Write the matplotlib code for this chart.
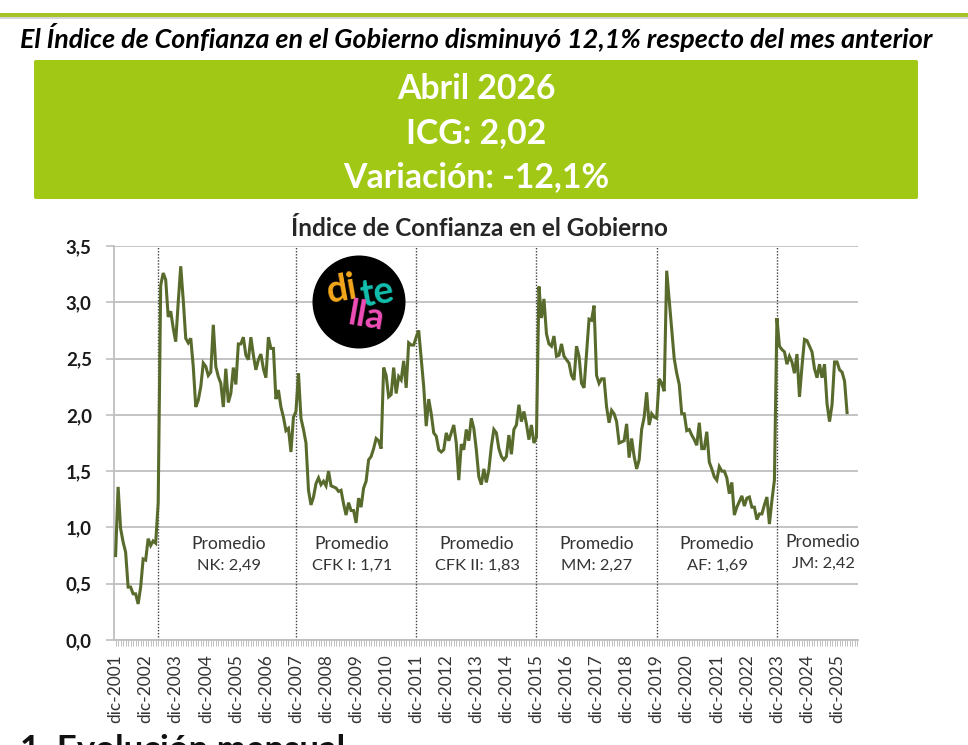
import numpy as np
import matplotlib
matplotlib.use("Agg")
import matplotlib.pyplot as plt
from matplotlib.patches import Circle, FancyBboxPatch, Rectangle

plt.rcParams['font.family'] = ['Lato', 'DejaVu Sans']

# ICG mensual, dic-2001 a abr-2026, por gobierno
icg_duhalde = [0.75, 1.36, 0.99, 0.87, 0.78, 0.47, 0.47, 0.41, 0.41, 0.32, 0.47, 0.72,
               0.71, 0.90, 0.84, 0.88, 0.86, 1.22]
icg_nk = [3.15, 3.26, 3.20, 2.87, 2.92, 2.77, 2.65, 3.00, 3.32, 3.02, 2.68, 2.64, 2.68,
          2.43, 2.07, 2.13, 2.25, 2.46, 2.43, 2.35, 2.38, 2.80, 2.43, 2.34, 2.28, 2.07,
          2.41, 2.11, 2.19, 2.42, 2.27, 2.63, 2.63, 2.69, 2.53, 2.49, 2.69, 2.53, 2.40,
          2.49, 2.54, 2.41, 2.33, 2.69, 2.59, 2.59, 2.14, 2.22, 2.07, 1.98, 1.86, 1.88,
          1.67, 1.98, 2.03]
icg_cfk1 = [2.37, 1.97, 1.87, 1.75, 1.33, 1.20, 1.27, 1.39, 1.44, 1.38, 1.41, 1.37, 1.50,
            1.37, 1.36, 1.35, 1.32, 1.33, 1.21, 1.11, 1.22, 1.15, 1.15, 1.04, 1.26, 1.18,
            1.35, 1.41, 1.60, 1.63, 1.70, 1.79, 1.77, 1.70, 2.42, 2.35, 2.16, 2.18, 2.42,
            2.19, 2.34, 2.31, 2.48, 2.24, 2.64, 2.62, 2.62, 2.69]
icg_cfk2 = [2.75, 2.50, 2.25, 1.90, 2.14, 2.01, 1.84, 1.81, 1.69, 1.67, 1.69, 1.84, 1.77,
            1.84, 1.91, 1.75, 1.42, 1.74, 1.69, 1.87, 1.77, 1.97, 1.88, 1.69, 1.45, 1.38,
            1.52, 1.40, 1.51, 1.72, 1.87, 1.84, 1.70, 1.63, 1.60, 1.63, 1.82, 1.65, 1.87,
            1.91, 2.09, 1.94, 2.03, 1.92, 1.78, 1.91, 1.75, 1.80]
icg_mm = [3.14, 2.86, 3.03, 2.72, 2.63, 2.61, 2.70, 2.52, 2.53, 2.63, 2.52, 2.49, 2.46,
          2.35, 2.31, 2.61, 2.52, 2.28, 2.24, 2.55, 2.85, 2.84, 2.97, 2.35, 2.28, 2.32,
          2.32, 2.07, 1.93, 2.04, 2.01, 1.94, 1.75, 1.76, 1.77, 1.92, 1.62, 1.79, 1.63,
          1.52, 1.60, 1.87, 1.98, 2.20, 1.91, 2.01, 1.98, 1.97]
icg_af = [2.32, 2.28, 2.21, 3.28, 3.02, 2.75, 2.50, 2.37, 2.27, 2.01, 2.01, 1.86, 1.87,
          1.82, 1.78, 1.73, 1.93, 1.70, 1.70, 1.85, 1.58, 1.52, 1.45, 1.42, 1.54, 1.50,
          1.50, 1.44, 1.30, 1.40, 1.11, 1.18, 1.23, 1.28, 1.19, 1.26, 1.27, 1.18, 1.18,
          1.07, 1.12, 1.12, 1.20, 1.27, 1.03, 1.24, 1.42]
icg_jm = [2.86, 2.61, 2.58, 2.56, 2.45, 2.52, 2.47, 2.37, 2.54, 2.16, 2.43, 2.67, 2.66,
          2.61, 2.56, 2.41, 2.33, 2.45, 2.33, 2.45, 2.10, 1.94, 2.09, 2.47, 2.47, 2.40,
          2.38, 2.30, 2.02]

icg = icg_duhalde + icg_nk + icg_cfk1 + icg_cfk2 + icg_mm + icg_af + icg_jm
meses = np.arange(len(icg))

cambios_gobierno = [17, 72, 120, 168, 216, 264]
anios = list(range(2001, 2026))
etiquetas_x = ['dic-' + str(a) for a in anios]
promedios = ['NK: 2,49', 'CFK I: 1,71', 'CFK II: 1,83', 'MM: 2,27', 'AF: 1,69', 'JM: 2,42']
prom_x = [229, 352, 477, 597, 717, 823]
prom_y = [544, 544, 544, 544, 544, 542]

VERDE = '#A0C814'
OLIVA = '#586B2C'
GRIS = '#BFBFBF'

W, H = 968, 745
fig = plt.figure(figsize=(W / 100, H / 100), dpi=100, facecolor='white')

# eje principal, ubicado en pixeles
izq, der, arriba, abajo = 114, 858, 246, 640
ax = fig.add_axes([izq / W, 1 - abajo / H, (der - izq) / W, (abajo - arriba) / H])
ax.set_xlim((izq - 115.6) / 2.505, (der - 115.6) / 2.505)
ax.set_ylim(0, 3.5)
ax.plot(meses, icg, color=OLIVA, lw=2.2, zorder=3, solid_joinstyle='miter')
for m in cambios_gobierno:
    ax.axvline(m, color='#404040', lw=1.0, ls=(0, (1, 1.2)), zorder=2)

ax.set_yticks(np.arange(0, 3.6, 0.5))
ax.set_yticklabels([f'{v:.1f}'.replace('.', ',') for v in np.arange(0, 3.6, 0.5)],
                   fontsize=13.5, fontweight='bold', color='#1a1a1a')
ax.set_xticks(meses[::12][:len(etiquetas_x)])
ax.set_xticklabels(etiquetas_x, rotation=90, fontsize=12.5, color='#333333')
ax.set_xticks(np.arange(0, 297), minor=True)
ax.grid(axis='y', color=GRIS, lw=1.3, zorder=1)
ax.tick_params(axis='y', length=6, color=GRIS, width=1.2, pad=10)
ax.tick_params(axis='x', which='major', length=4, color=GRIS, width=0.7, pad=6)
ax.tick_params(axis='x', which='minor', length=4, color=GRIS, width=0.7)
for s in ['top', 'right']:
    ax.spines[s].set_visible(False)
for s in ['left', 'bottom']:
    ax.spines[s].set_color(GRIS)
    ax.spines[s].set_linewidth(1.3)

# capa en pixeles para el resto de la pagina
pg = fig.add_axes([0, 0, 1, 1], zorder=5)
pg.set_xlim(0, W)
pg.set_ylim(H, 0)
pg.axis('off')
pg.patch.set_alpha(0)

pg.add_patch(Rectangle((0, 16), W, 3, color='#D5D5D5', lw=0))
pg.add_patch(Rectangle((0, 13), W, 3.5, color='#A5C42A', lw=0))
pg.text(476, 37, 'El Índice de Confianza en el Gobierno disminuyó 12,1% respecto del mes anterior',
        ha='center', va='center', fontsize=19.4, fontweight='bold', style='italic', color='black')
pg.add_patch(FancyBboxPatch((36, 62), 880, 135, boxstyle='round,pad=2,rounding_size=2',
                            color=VERDE, lw=0))
for y, txt in zip([89, 133, 177], ['Abril 2026', 'ICG: 2,02', 'Variación: -12,1%']):
    pg.text(476, y, txt, ha='center', va='center', fontsize=24.3, fontweight='bold', color='white')
pg.text(479, 228, 'Índice de Confianza en el Gobierno', ha='center', va='center',
        fontsize=17.5, fontweight='bold', color='#262626')

for x, y, txt in zip(prom_x, prom_y, promedios):
    pg.text(x, y, 'Promedio', ha='center', va='center', fontsize=12.6, color='#333333')
    pg.text(x, y + 22, txt, ha='center', va='center', fontsize=11.8, color='#333333')

# logo
pg.add_patch(Circle((359, 302), 46.5, color='black', lw=0))
pg.text(342, 290, 'di', ha='center', va='center', fontsize=27, fontweight='bold', color='#F5A81C', rotation=10)
pg.text(377, 293, 'te', ha='center', va='center', fontsize=27, fontweight='bold', color='#12BFAE', rotation=10)
pg.text(366, 317, 'lla', ha='center', va='center', fontsize=26, fontweight='bold', color='#EE4FB8', rotation=-10)

pg.text(20, 750, '1. Evolución mensual', ha='left', va='center', fontsize=25, fontweight='bold',
        color='#111111', clip_on=True)

fig.savefig('out.png', dpi=100)
